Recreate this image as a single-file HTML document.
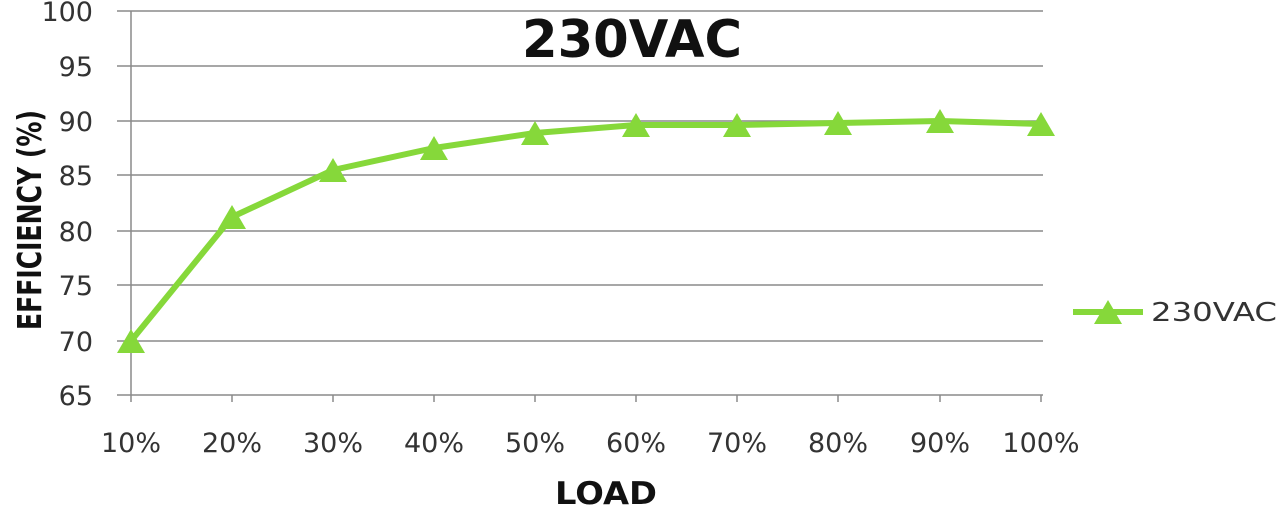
<!DOCTYPE html>
<html><head><style>body{margin:0;background:#fff;}svg{display:block}</style></head><body>
<svg width="1280" height="507" xmlns="http://www.w3.org/2000/svg" font-family="DejaVu Sans, Liberation Sans, sans-serif">
<g stroke="#8a8a8a" stroke-width="1.5">
<line x1="117" y1="11" x2="1043" y2="11"/>
<line x1="117" y1="66" x2="1043" y2="66"/>
<line x1="117" y1="121" x2="1043" y2="121"/>
<line x1="117" y1="175" x2="1043" y2="175"/>
<line x1="117" y1="231" x2="1043" y2="231"/>
<line x1="117" y1="285" x2="1043" y2="285"/>
<line x1="117" y1="341" x2="1043" y2="341"/>
<line x1="117" y1="395" x2="1043" y2="395"/>
<line x1="131" y1="11" x2="131" y2="402"/>
<line x1="232" y1="395" x2="232" y2="402"/><line x1="333" y1="395" x2="333" y2="402"/>
<line x1="434" y1="395" x2="434" y2="402"/><line x1="535" y1="395" x2="535" y2="402"/>
<line x1="636" y1="395" x2="636" y2="402"/><line x1="737" y1="395" x2="737" y2="402"/>
<line x1="838" y1="395" x2="838" y2="402"/><line x1="940" y1="395" x2="940" y2="402"/>
<line x1="1041" y1="395" x2="1041" y2="402"/>
</g>
<g font-size="27" fill="#333" text-anchor="end">
<text x="93" y="21">100</text><text x="93" y="76">95</text><text x="93" y="131">90</text>
<text x="93" y="185">85</text><text x="93" y="241">80</text><text x="93" y="295">75</text>
<text x="93" y="351">70</text><text x="93" y="405">65</text>
</g>
<g font-size="27" fill="#333" text-anchor="middle">
<text x="131" y="452">10%</text><text x="232" y="452">20%</text><text x="333" y="452">30%</text>
<text x="434" y="452">40%</text><text x="535" y="452">50%</text><text x="636" y="452">60%</text>
<text x="737" y="452">70%</text><text x="838" y="452">80%</text><text x="940" y="452">90%</text>
<text x="1041" y="452">100%</text>
</g>
<text x="606" y="504" font-size="31" font-weight="bold" text-anchor="middle" fill="#111" textLength="102" lengthAdjust="spacingAndGlyphs">LOAD</text>
<text transform="translate(41,220) rotate(-90)" font-size="33" font-weight="bold" text-anchor="middle" fill="#111" textLength="220" lengthAdjust="spacingAndGlyphs">EFFICIENCY (%)</text>
<text x="632" y="57" font-size="52" font-weight="bold" text-anchor="middle" fill="#111" textLength="220" lengthAdjust="spacingAndGlyphs">230VAC</text>
<polyline fill="none" stroke="#86d83a" stroke-width="6" stroke-linejoin="round" points="131,341 232,217 333,170 434,148 535,133 636,125 737,125 838,123 940,121 1041,124"/>
<g fill="#86d83a">
<path d="M131,329 L145,353 L117,353Z"/><path d="M232,205 L246,229 L218,229Z"/>
<path d="M333,158 L347,182 L319,182Z"/><path d="M434,136 L448,160 L420,160Z"/>
<path d="M535,121 L549,145 L521,145Z"/><path d="M636,113 L650,137 L622,137Z"/>
<path d="M737,113 L751,137 L723,137Z"/><path d="M838,111 L852,135 L824,135Z"/>
<path d="M940,109 L954,133 L926,133Z"/><path d="M1041,112 L1055,136 L1027,136Z"/>
</g>
<line x1="1073" y1="312" x2="1143" y2="312" stroke="#86d83a" stroke-width="6"/>
<path d="M1108,300 L1122,324 L1094,324Z" fill="#86d83a"/>
<text x="1151" y="321" font-size="26" fill="#333" textLength="126" lengthAdjust="spacingAndGlyphs">230VAC</text>
</svg>
</body></html>
